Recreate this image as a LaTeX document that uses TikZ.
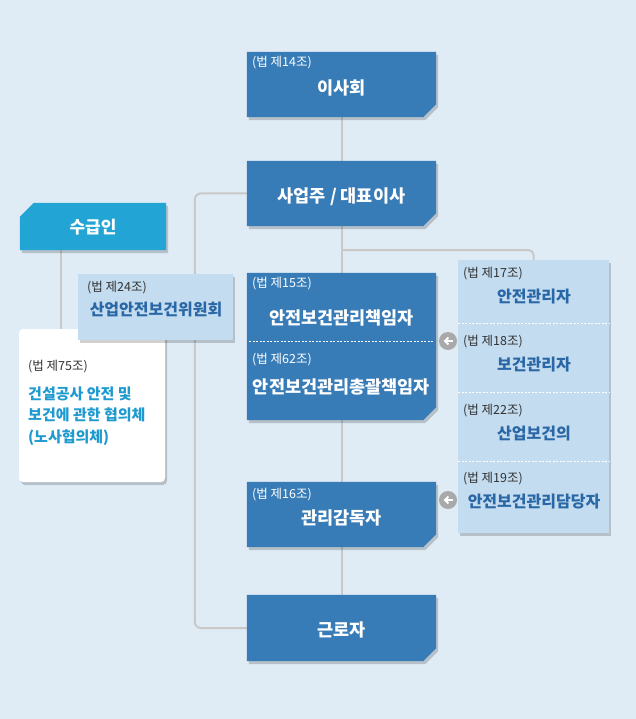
\documentclass[tikz,border=0pt]{standalone}
\usepackage{fontspec}
\setmainfont{Noto Sans CJK KR}
\usetikzlibrary{shadows,backgrounds,arrows.meta,calc}
\definecolor{bg}{HTML}{DFEBF5}
\definecolor{dkblue}{HTML}{377BB7}
\definecolor{cyanbox}{HTML}{22A5D5}
\definecolor{ltblue}{HTML}{C3DCEF}
\definecolor{paneltxt}{HTML}{2A67A6}
\definecolor{wbtxt}{HTML}{1E9ACF}
\definecolor{conn}{HTML}{C9C9C9}
\definecolor{arrowgray}{HTML}{A9A9A9}
\definecolor{smalltxt}{HTML}{333333}
\tikzset{
  shd/.style={drop shadow={shadow xshift=2pt, shadow yshift=-3pt, opacity=0.18, fill=black}},
  frame/.style={rectangle, inner sep=0pt},
  lightbox/.style={rectangle, fill=ltblue, inner sep=0pt, shd},
  whitebox/.style={rectangle, rounded corners=4pt, fill=white, inner sep=0pt, shd},
  law/.style={anchor=west, inner sep=0pt, font=\fontsize{12.5}{14}\selectfont},
  lawW/.style={law, text=white},
  lawD/.style={law, text=smalltxt},
  ttl/.style={inner sep=0pt, text=white, font=\fontsize{17.5}{20}\selectfont\bfseries},
  ptl/.style={inner sep=0pt, text=paneltxt, font=\fontsize{16}{19}\selectfont\bfseries},
  connector/.style={draw=conn, line width=2pt},
  sep/.style={draw=white, dashed, dash pattern=on 2pt off 1.5pt, line width=0.8pt},
  arrowdot/.style={circle, fill=arrowgray, minimum size=18pt, inner sep=0pt},
  arrowin/.style={draw=white, line width=2pt, -{Straight Barb[length=3.5pt,width=7pt,line width=2pt]}}
}
\newcommand\mkcutse[2]{\fill[#2, shd] (#1.north west) -- (#1.north east) -- ($(#1.south east)+(0,-13)$) -- ($(#1.south east)+(-13,0)$) -- (#1.south west) -- cycle;}
\newcommand\mkcutnw[2]{\fill[#2, shd] ($(#1.north west)+(0,14)$) -- ($(#1.north west)+(14,0)$) -- (#1.north east) -- (#1.south east) -- (#1.south west) -- cycle;}
\begin{document}
\begin{tikzpicture}[x=1pt,y=-1pt]
\useasboundingbox (0,0) rectangle (636,719);

% main column
\node[frame, minimum width=189pt, minimum height=65pt] (board) at (341.5,84.5) {};
\node[frame, minimum width=189pt, minimum height=65pt] (ceo) at (341.5,193.5) {};
\node[frame, minimum width=189pt, minimum height=147pt] (mgr) at (341.5,346.5) {};
\node[frame, minimum width=189pt, minimum height=65pt] (sup) at (341.5,514.5) {};
\node[frame, minimum width=189pt, minimum height=66pt] (worker) at (341.5,628) {};
\mkcutse{board}{dkblue}
\mkcutse{ceo}{dkblue}
\mkcutse{mgr}{dkblue}
\mkcutse{sup}{dkblue}
\mkcutse{worker}{dkblue}

\node[lawW] (l14) at (252,63) {(법 제14조)};
\node[ttl] (t1) at (341.5,88) {이사회};
\node[ttl] (t2) at (341.5,197) {사업주 / 대표이사};
\node[lawW] (l15) at (252,284) {(법 제15조)};
\node[ttl] (t3) at (341.5,318) {안전보건관리책임자};
\draw[sep] (249,341) -- (434,341);
\node[lawW] (l62) at (252,360) {(법 제62조)};
\node[ttl] (t4) at (341.5,387) {안전보건관리총괄책임자};
\node[lawW] (l16) at (252,495) {(법 제16조)};
\node[ttl] (t5) at (341.5,518) {관리감독자};
\node[ttl] (t6) at (341.5,630) {근로자};

% right panel
\node[lightbox, minimum width=151pt, minimum height=273pt] (panel) at (533.5,396.5) {};
\draw[sep] (458,323) -- (609,323);
\draw[sep] (458,392) -- (609,392);
\draw[sep] (458,461) -- (609,461);
\node[lawD] (l17) at (463,274) {(법 제17조)};
\node[ptl] (p1) at (534,297) {안전관리자};
\node[lawD] (l18) at (463,342) {(법 제18조)};
\node[ptl] (p2) at (534,365) {보건관리자};
\node[lawD] (l22) at (463,411) {(법 제22조)};
\node[ptl] (p3) at (534,434) {산업보건의};
\node[lawD] (l19) at (463,479) {(법 제19조)};
\node[ptl] (p4) at (534,502) {안전보건관리담당자};

\node[arrowdot] (a1) at (448,341) {};
\draw[arrowin] ($(a1.center)+(4.5,0)$) -- ($(a1.center)+(-4.5,0)$);
\node[arrowdot] (a2) at (448,500) {};
\draw[arrowin] ($(a2.center)+(4.5,0)$) -- ($(a2.center)+(-4.5,0)$);

% left side
\node[frame, minimum width=146pt, minimum height=47pt] (sub) at (93,226.5) {};
\mkcutnw{sub}{cyanbox}
\node[inner sep=0pt, text=white, font=\fontsize{17}{20}\selectfont\bfseries] (subt) at (93,227) {수급인};
\node[whitebox, minimum width=146pt, minimum height=153pt] (wb) at (92,405.5) {};
\node[lawD] (l75) at (28,367) {(법 제75조)};
\node[anchor=west, inner sep=0pt, align=left, text=wbtxt, font=\fontsize{15}{21.5}\selectfont\bfseries] (wbt) at (28,416) {건설공사 안전 및\\보건에 관한 협의체\\(노사협의체)};
\node[lightbox, minimum width=155pt, minimum height=66pt] (com) at (155.5,307) {};
\node[lawD] (l24) at (87,288) {(법 제24조)};
\node[ptl] (comt) at (156,310) {산업안전보건위원회};

\coordinate (sx) at (61,0);
\coordinate (br) at (341.5,250);

\begin{scope}[on background layer]
  \fill[bg] (0,0) rectangle (636,719);
  \draw[connector] (board.south) -- (worker.north);
  \draw[connector, rounded corners=6pt] (ceo.west) -- ++(-52,0) |- (worker.west);
  \draw[connector, rounded corners=5pt] (br) -| (panel.north);
  \draw[connector] (sub.south -| sx) -- (wb.north -| sx);
\end{scope}
\end{tikzpicture}
\end{document}
